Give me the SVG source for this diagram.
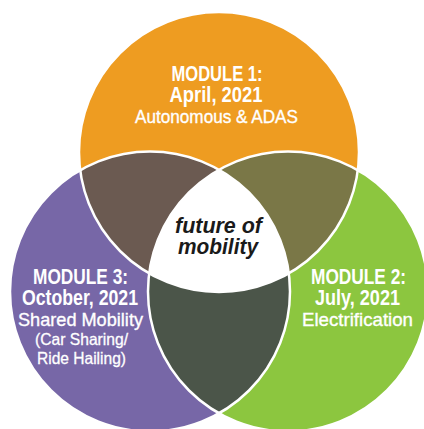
<svg xmlns="http://www.w3.org/2000/svg" width="424" height="429" viewBox="0 0 424 429">
<style>
.t{font-family:"Liberation Sans",Arial,sans-serif;fill:#fff;text-anchor:middle}
.b{font-weight:bold;font-size:21.5px}
.r{font-weight:normal;font-size:18.5px;stroke:#fff;stroke-width:0.35}
.s{font-weight:normal;font-size:16.5px;stroke:#fff;stroke-width:0.3}
.c{font-family:"Liberation Sans",Arial,sans-serif;font-weight:bold;font-style:italic;font-size:22px;fill:#1a1a1a;text-anchor:middle}
.edge{fill:none;stroke:#fff;stroke-width:2.5}
</style>
<defs>
<clipPath id="cO"><circle cx="219" cy="152" r="140"/></clipPath>
<clipPath id="cP"><circle cx="150" cy="291.5" r="140"/></clipPath>
</defs>
<rect width="424" height="429" fill="#fff"/>
<g id="module1">
<circle cx="219" cy="152" r="140" fill="#EE9C21"/>
</g>
<g id="module3">
<circle cx="150" cy="291.5" r="140" fill="#7767A7"/>
</g>
<g id="module2">
<circle cx="288" cy="291.5" r="140" fill="#8CC63F"/>
</g>
<g id="overlaps">
<circle cx="150" cy="291.5" r="140" fill="#6B5A51" clip-path="url(#cO)"/>
<circle cx="288" cy="291.5" r="140" fill="#7A7747" clip-path="url(#cO)"/>
<circle cx="288" cy="291.5" r="140" fill="#4B5549" clip-path="url(#cP)"/>
<g clip-path="url(#cO)"><circle cx="288" cy="291.5" r="140" fill="#fff" clip-path="url(#cP)"/></g>
</g>
<g id="connectors">
<circle class="edge" cx="219" cy="152" r="140"/>
<circle class="edge" cx="150" cy="291.5" r="140"/>
<circle class="edge" cx="288" cy="291.5" r="140"/>
</g>
<g id="module1-label">
<text class="t b" x="217" y="81" textLength="91" lengthAdjust="spacingAndGlyphs">MODULE 1:</text>
<text class="t b" x="216" y="102" textLength="93" lengthAdjust="spacingAndGlyphs">April, 2021</text>
<text class="t r" x="216.5" y="123" textLength="163" lengthAdjust="spacingAndGlyphs">Autonomous &amp; ADAS</text>
</g>
<g id="module3-label">
<text class="t b" x="80.5" y="284" textLength="95" lengthAdjust="spacingAndGlyphs">MODULE 3:</text>
<text class="t b" x="80" y="305" textLength="116" lengthAdjust="spacingAndGlyphs">October, 2021</text>
<text class="t r" x="80.5" y="326" textLength="125" lengthAdjust="spacingAndGlyphs">Shared Mobility</text>
<text class="t s" x="81.5" y="345" textLength="93" lengthAdjust="spacingAndGlyphs">(Car Sharing/</text>
<text class="t s" x="81.5" y="364" textLength="89" lengthAdjust="spacingAndGlyphs">Ride Hailing)</text>
</g>
<g id="module2-label">
<text class="t b" x="358.5" y="284" textLength="95" lengthAdjust="spacingAndGlyphs">MODULE 2:</text>
<text class="t b" x="357.5" y="305" textLength="85" lengthAdjust="spacingAndGlyphs">July, 2021</text>
<text class="t r" x="357.5" y="326" textLength="111" lengthAdjust="spacingAndGlyphs">Electrification</text>
</g>
<g id="center">
<text class="c" x="218.5" y="233" textLength="87" lengthAdjust="spacingAndGlyphs">future of</text>
<text class="c" x="218" y="254" textLength="80" lengthAdjust="spacingAndGlyphs">mobility</text>
</g>
</svg>
